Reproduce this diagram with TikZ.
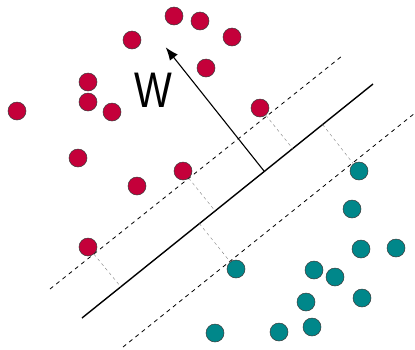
\documentclass[tikz,border=0pt]{standalone}
\usepackage{fontspec}
\setmainfont{Liberation Sans}
\usetikzlibrary{arrows.meta}
\definecolor{dotred}{HTML}{C4003A}
\definecolor{dotteal}{HTML}{00878A}
\definecolor{dotedge}{HTML}{3A3A3A}
\begin{document}
\begin{tikzpicture}[x=1pt,y=-1pt,
  reddot/.style={circle,fill=dotred,draw=dotedge,line width=0.5pt,minimum size=18pt,inner sep=0pt},
  tealdot/.style={circle,fill=dotteal,draw=dotedge,line width=0.5pt,minimum size=18pt,inner sep=0pt},
  margin/.style={dashed,dash pattern=on 4pt off 4pt,line width=0.8pt,black},
  hyper/.style={line width=1.4pt,black},
  proj/.style={dash pattern=on 3pt off 3pt,line width=0.4pt,gray}]
\useasboundingbox (0,0) rectangle (415,349);
% lines
\coordinate (hA) at (82,318); \coordinate (hB) at (373,84);
\coordinate (uA) at (50,289); \coordinate (uB) at (342,56);
\coordinate (lA) at (123,347); \coordinate (lB) at (415,113);
\draw[hyper] (hA) -- (hB);
\draw[margin] (uA) -- (uB);
\draw[margin] (lA) -- (lB);
% feet on the hyperplane
\coordinate (f1) at (120.8,286.8);
\coordinate (f2) at (215.1,211.0);
\coordinate (f3) at (292.7,148.6);
\coordinate (f4) at (322.6,124.5);
\coordinate (f5) at (199.4,223.6);
% red points
\node[reddot] (r1) at (17,111) {};
\node[reddot] (r2) at (132,40) {};
\node[reddot] (r3) at (174,16) {};
\node[reddot] (r4) at (200,21) {};
\node[reddot] (r5) at (232,37) {};
\node[reddot] (r6) at (206,68) {};
\node[reddot] (r7) at (88,82) {};
\node[reddot] (r8) at (88,102) {};
\node[reddot] (r9) at (112,112) {};
\node[reddot] (r10) at (78,158) {};
\node[reddot] (r11) at (137,186) {};
\node[reddot] (r12) at (183,171) {};
\node[reddot] (r13) at (260,108) {};
\node[reddot] (r14) at (88,247) {};
% teal points
\node[tealdot] (t1) at (359,171) {};
\node[tealdot] (t2) at (352,209) {};
\node[tealdot] (t3) at (361,249) {};
\node[tealdot] (t4) at (396,248) {};
\node[tealdot] (t5) at (236,269) {};
\node[tealdot] (t6) at (314,270) {};
\node[tealdot] (t7) at (335,277) {};
\node[tealdot] (t8) at (306,302) {};
\node[tealdot] (t9) at (362,298) {};
\node[tealdot] (t10) at (215,333) {};
\node[tealdot] (t11) at (279,332) {};
\node[tealdot] (t12) at (312,327) {};
% projections
\draw[proj] (r14) -- (f1);
\draw[proj] (r12) -- (f2);
\draw[proj] (r13) -- (f3);
\draw[proj] (f4) -- (t1);
\draw[proj] (f5) -- (t5);
% normal vector
\coordinate (wbase) at (264,171);
\coordinate (wtip) at (165.7,47.3);
\draw[line width=1.1pt,-{Latex[length=13pt,width=10pt]}] (wbase) -- (wtip);
\node[inner sep=0pt,font=\fontsize{50}{50}\selectfont] (w) at (153,90) {\scalebox{0.8}[1]{W}};
\end{tikzpicture}
\end{document}
